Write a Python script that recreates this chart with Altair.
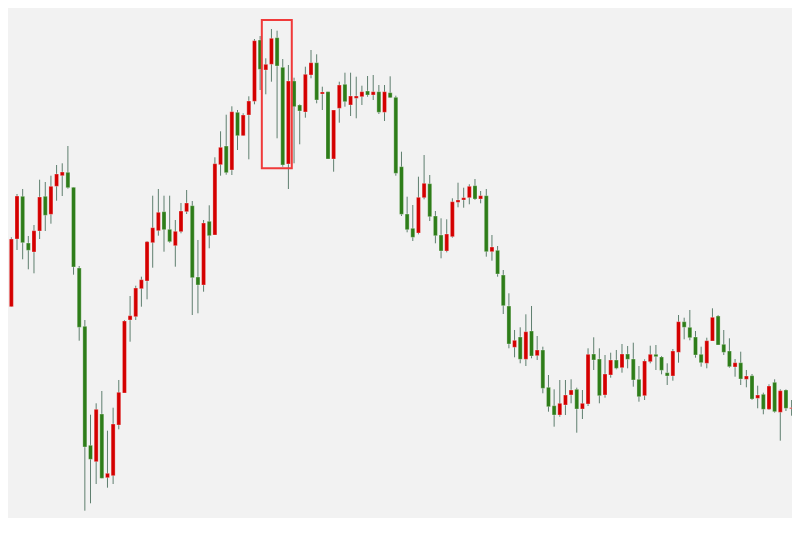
import altair as alt
import pandas as pd

opens = [328, 325.7, 293.3, 361, 403.7, 357, 348, 369, 403.7, 385.7,
         413.7, 424.3, 427.7, 412.7, 332, 273.7, 154.7, 138.3, 186, 122.3,
         124.3, 175, 207, 280, 283.3, 311.3, 319, 357.3, 369.3, 388.3,
         370.7, 354.3, 368.3, 388.3, 394.3, 323, 315, 378.7, 365, 435.3,
         454, 430, 487.7, 464.3, 485, 498.7, 560, 530, 535.7, 562.3,
         532.7, 436, 519, 495, 488, 525, 537.3, 506, 508.3, 441,
         491.7, 515.7, 495, 501.7, 503.3, 509, 505, 508.3, 487.7, 507.3,
         502.7, 433.3, 386, 371.7, 367, 402.3, 416.3, 384, 365, 349,
         363.3, 397.7, 400, 402.3, 414.3, 401, 404.3, 348.3, 349.7, 325,
         294, 252.7, 263, 240.7, 269, 244.3, 250, 212.7, 194.3, 185,
         195, 205, 210.7, 191, 196, 246, 241, 205, 225, 240,
         232.3, 246, 241, 220.7, 204.3, 238.3, 245.7, 243, 227.3, 224,
         247.7, 278.3, 272.7, 263, 245.7, 236.7, 259, 284, 255.7, 249,
         233, 237.3, 220.7, 224.3, 201.7, 205.7, 190.7, 217.7, 187.7, 210,
         191.3, 194.3]

highs = [330, 341, 362.7, 406, 411, 364, 375, 420.3, 418, 424.3,
         435, 436.7, 454, 412.7, 334, 280, 185.3, 196.7, 209, 169.3,
         192.3, 220, 280, 304, 314.3, 323.3, 359, 404.3, 411, 404.3,
         404.3, 380, 397, 410, 399, 360, 380, 394.7, 442.7, 468.7,
         485.3, 493.7, 490, 486.7, 503.7, 561, 564, 541.7, 571, 569.3,
         541, 535, 522.3, 495.7, 533.3, 550, 545.7, 513.3, 508.3, 490,
         518.3, 527.3, 527.3, 523.3, 514.3, 524, 525, 515, 515, 523.7,
         504.3, 448.3, 403.3, 395, 423.3, 445, 425, 389, 381.7, 380.7,
         401.7, 417.3, 412.3, 415.7, 421, 409, 411, 365, 354, 330,
         306.7, 270, 272.7, 285.7, 294, 264, 253.3, 225, 210.7, 220,
         220, 220.7, 212.3, 210, 251.7, 262.7, 251.7, 245, 247.3, 250,
         256, 254, 257.3, 234, 240.7, 254.3, 255, 244, 236.7, 251,
         285, 282.3, 290, 269, 253.3, 262.3, 291.7, 285, 270, 261.7,
         241, 248.3, 230, 226, 214.3, 207.3, 215.7, 220.7, 210.7, 210.7,
         200, 203.3]

lows = [324, 247.7, 293.3, 350, 340.7, 330.7, 326.7, 361, 369, 376.3,
        399.3, 404, 411.3, 325.3, 259.3, 89.3, 96.7, 116, 121.7, 112.3,
        116, 170.7, 207, 258.3, 280, 293.3, 300.7, 332.3, 364.3, 348.3,
        357.3, 333.3, 366.7, 386, 285, 286.7, 308.3, 351.7, 365, 424.3,
        425.3, 425, 450, 464.3, 440.7, 495.7, 510, 505.7, 518.3, 461.7,
        433.3, 411, 436.7, 455.7, 482.3, 521.7, 496.7, 490, 441, 428.3,
        477.3, 493.3, 484, 481.7, 495, 503.3, 500, 486, 479, 502.3,
        424.3, 384, 367.7, 359, 365.7, 400.7, 379, 356.7, 341.7, 347.7,
        362.3, 392.7, 392.3, 395.7, 400, 396.7, 343.3, 339.3, 323.3, 286,
        251.7, 242.7, 236.7, 234, 241.7, 240, 206.7, 188.3, 173.3, 183.3,
        185, 196.7, 167.3, 181, 194, 230, 196.7, 202.3, 222.3, 230.7,
        227.3, 231.7, 213.3, 198.3, 200, 236.7, 230, 225.7, 215, 219.3,
        237.3, 260.7, 259.7, 242.3, 233.3, 231.7, 259, 255, 245, 232.3,
        223.3, 215, 212.7, 200, 191.7, 185.7, 190, 187.3, 159.3, 189,
        184.3, 182.3]

closes = [325.5, 295, 361, 404, 357.3, 349.7, 369.3, 403, 384.7, 413.7,
          426, 428, 412.3, 333, 272.7, 153, 140.7, 190.7, 121.7, 126.7,
          176, 207.7, 279, 284.3, 312, 320.3, 358.3, 372.3, 387.7, 370.3,
          358.3, 368.7, 389, 397, 322.3, 315, 377, 364.3, 436.3, 452.7,
          427.3, 488.3, 464.3, 485, 499, 559.3, 530.7, 535.7, 561.7, 534,
          435, 519, 493.3, 489, 525.7, 537.3, 500, 508, 441, 490,
          515, 498.3, 504, 504, 508.3, 505, 508.3, 487.7, 508.3, 502.3,
          426.7, 385.7, 370.3, 362.7, 402.7, 416.7, 383.3, 364.3, 349, 366,
          398.3, 400, 402.3, 413.7, 401, 404.3, 348.3, 353, 326, 294.3,
          256, 259.7, 240.7, 268.3, 244, 250, 211.7, 193.3, 185, 196.7,
          205, 210, 191, 196.7, 245.7, 240, 204.3, 226, 240, 231.7,
          246, 240.7, 220, 203.3, 239, 245.7, 243.3, 229.7, 224, 249,
          278.3, 272.7, 262.3, 245, 237.3, 259.3, 282.7, 255, 247.7, 233.3,
          237.3, 221, 224, 201, 205, 190.7, 214, 188.3, 209.3, 191.7,
          192.3, 187.7]

# highlighted group of candles (index range and price range of the box)
box_left = [46.3]
box_right = [51.6]
box_top = [580.0]
box_bottom = [431.7]

df = pd.DataFrame({
    "i": list(range(len(opens))),
    "open": opens, "high": highs, "low": lows, "close": closes,
})
df["dir"] = ["up" if c >= o else "down" for o, c in zip(opens, closes)]

box_df = pd.DataFrame({"x1": box_left, "x2": box_right, "y1": box_top, "y2": box_bottom})

xs = alt.Scale(domain=[1.407, 140.07], nice=False, zero=False, padding=0)
ys = alt.Scale(domain=[82, 592], nice=False, zero=False, padding=0)
cs = alt.Scale(domain=["up", "down"], range=["#d40000", "#2e7d19"])

base = alt.Chart(df)

wicks = base.mark_rule(color="#5f7f6f", strokeWidth=1, clip=True).encode(
    x=alt.X("i:Q", scale=xs, axis=None),
    y=alt.Y("low:Q", scale=ys, axis=None),
    y2="high:Q",
)

bodies = base.mark_bar(size=4, clip=True, stroke="#ffffff", strokeWidth=0.5, strokeOpacity=0.6).encode(
    x=alt.X("i:Q", scale=xs, axis=None),
    y=alt.Y("open:Q", scale=ys, axis=None),
    y2="close:Q",
    color=alt.Color("dir:N", scale=cs, legend=None),
)

box = alt.Chart(box_df).mark_rect(fill=None, stroke="#f03a3a", strokeWidth=2, clip=True).encode(
    x=alt.X("x1:Q", scale=xs, axis=None),
    x2="x2:Q",
    y=alt.Y("y1:Q", scale=ys, axis=None),
    y2="y2:Q",
)

chart = alt.layer(wicks, bodies, box).properties(
    width=784, height=510, background="#f2f2f2", padding=0,
    autosize=alt.AutoSizeParams(type="none"),
).configure_view(stroke=None)

chart.save("out.html", embed_options={"renderer": "svg", "actions": False})
